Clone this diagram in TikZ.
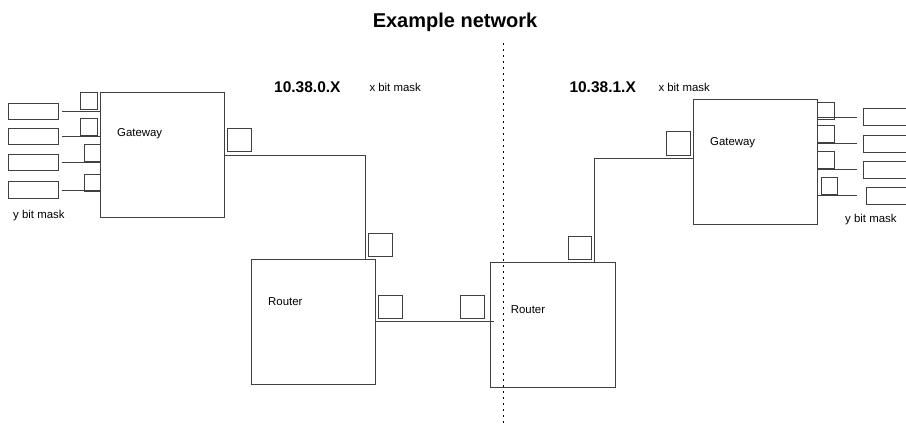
\documentclass[tikz,border=0pt]{standalone}
\usepackage{fontspec}
\setmainfont{Liberation Sans}
\begin{document}
\begin{tikzpicture}[x=1pt,y=-1pt,
  wire/.style={line width=0.9pt, draw=black!75},
  box/.style={draw=black!75, line width=0.9pt, inner sep=0pt, outer sep=0pt, minimum width=#1, minimum height=#1},
  bigbox/.style={draw=black!75, line width=0.9pt, inner sep=0pt, outer sep=0pt, minimum width=124.5pt, minimum height=124.5pt},
  port/.style={box=16.5pt},
  bport/.style={box=23.5pt},
  host/.style={draw=black!75, line width=0.9pt, inner sep=0pt, outer sep=0pt, minimum width=50pt, minimum height=16.5pt},
  lbl/.style={inner sep=0pt, anchor=west, font=\fontsize{11.4}{13}\selectfont},
  addr/.style={inner sep=0pt, anchor=west, font=\fontsize{15.5}{18}\selectfont\bfseries},
  sep/.style={line width=1pt, draw=black, dash pattern=on 1.5pt off 4.5pt}
]
\useasboundingbox (0,0) rectangle (906,432);
\clip (0,0) rectangle (906,432);

% title and labels
\node[inner sep=0pt, font=\fontsize{20}{24}\selectfont\bfseries] (title) at (455,22) {Example network};
\node[addr] (addrL) at (274,87) {10.38.0.X};
\node[lbl] (xmL) at (369.3,87) {x bit mask};
\node[addr] (addrR) at (569.3,87) {10.38.1.X};
\node[lbl] (xmR) at (658.3,87) {x bit mask};

% separator
\coordinate (dtop) at (503.3,43);
\coordinate (dbot) at (503.3,425);
\draw[sep] (dtop) -- (dbot);

% left gateway
\node[bigbox] (gwL) at (162.5,155) {};
\node[lbl] (gwLt) at (117,134) {Gateway};
\node[port] (sqL1) at (89,101) {};
\node[port] (sqL2) at (89,127) {};
\node[port] (sqL3) at (92.2,153) {};
\node[port] (sqL4) at (92.2,183) {};
\node[host] (rL1) at (33.3,111.5) {};
\node[host] (rL2) at (33.3,136.5) {};
\node[host] (rL3) at (33.3,162.5) {};
\node[host] (rL4) at (33.3,190) {};
\foreach \i in {1,...,4}{
  \draw[wire] ([xshift=3.4pt]rL\i.east) -- (rL\i.east -| gwL.west);
}
\node[lbl] (ymL) at (13,216) {y bit mask};
\node[bport] (sqGL) at (239.5,140) {};

% left router
\node[bigbox] (rtL) at (313.5,321.7) {};
\node[lbl] (rtLt) at (268,302) {Router};
\node[bport] (sqRtL) at (380.5,245) {};
\node[bport] (sqRtL2) at (390.3,307) {};
\draw[wire] (gwL.east) -| ([xshift=-10pt]rtL.north east);

% right router
\node[bigbox] (rtR) at (552.8,324.7) {};
\node[lbl] (rtRt) at (510.7,309.3) {Router};
\node[bport] (sqRtR2) at (472.3,307) {};
\node[bport] (sqRtR) at (580,248) {};
\draw[wire] (rtL.east) -- ([xshift=3.3pt]rtL.east -| rtR.west);

% right gateway
\node[bigbox] (gwR) at (755.5,161.7) {};
\node[lbl] (gwRt) at (710,142.3) {Gateway};
\node[bport] (sqGR) at (678.3,143.3) {};
\draw[wire] ([xshift=-20.7pt]rtR.north east) |- ([yshift=3.4pt]gwR.west);
\node[port] (sqR1) at (826,110.7) {};
\node[port] (sqR2) at (826,133.7) {};
\node[port] (sqR3) at (826,159.7) {};
\node[port] (sqR4) at (829.3,185.8) {};
\node[host] (rR1) at (888.3,117) {};
\node[host] (rR2) at (888.3,143.7) {};
\node[host] (rR3) at (888.3,169.7) {};
\node[host] (rR4) at (891.7,195.9) {};
\foreach \i in {1,2,3}{
  \draw[wire] (rR\i.west -| gwR.east) -- ([xshift=-6.6pt]rR\i.west);
}
\draw[wire] (rR4.west -| gwR.east) -- ([xshift=-10pt]rR4.west);
\node[lbl] (ymR) at (845,220) {y bit mask};
\end{tikzpicture}
\end{document}
